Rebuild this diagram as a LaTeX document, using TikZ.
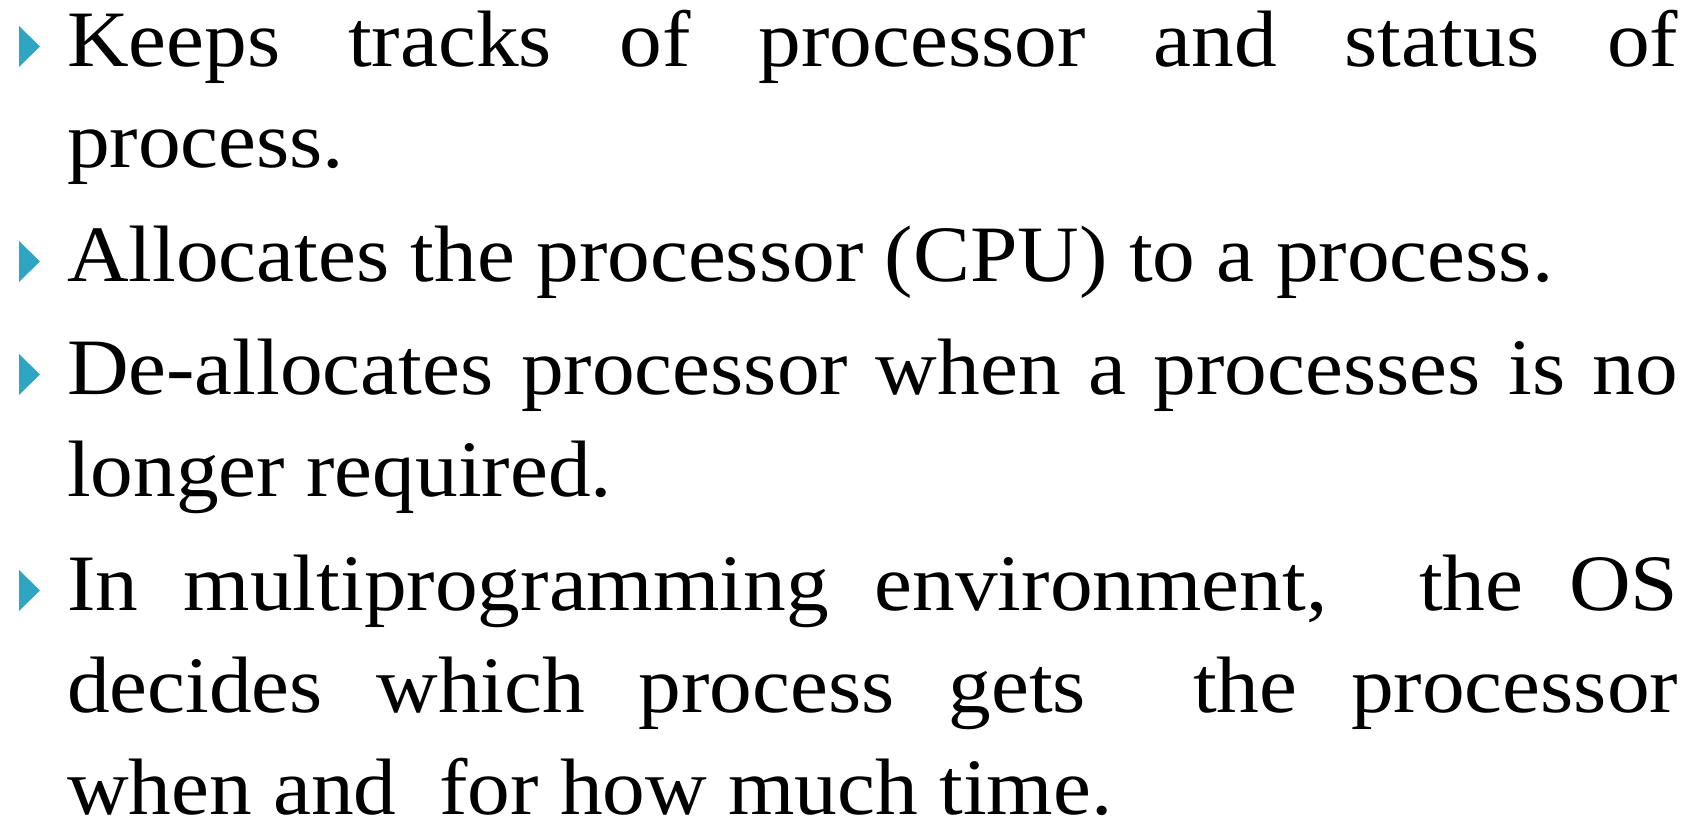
\documentclass[tikz,border=0pt]{standalone}
\usepackage{fontspec}
\setmainfont{Liberation Serif}
\definecolor{bulletblue}{HTML}{2FA5C4}
\newcommand{\wideline}[1]{\scalebox{1.067}[1]{#1}}
\newcommand{\justline}[1]{\scalebox{1.067}[1]{\makebox[1510bp][s]{#1}}}
\begin{document}
\begin{tikzpicture}[x=1bp,y=1bp,
  txtline/.style={anchor=base west, inner sep=0pt, outer sep=0pt, font=\fontsize{80bp}{96bp}\selectfont},
  bulletmark/.style={fill=bulletblue, draw=none}]
\useasboundingbox (0,0) rectangle (1706,821);
% bullets
\foreach \b in {754,539,426,210}{
  \fill[bulletmark] (19,\b) -- (19,\b+41) -- (40,\b+20.5) -- cycle;
}
% paragraph 1
\node[txtline] (l1) at (67,754) {\justline{Keeps tracks of processor and status of}};
\node[txtline] (l2) at (67,653) {\wideline{process.}};
% paragraph 2
\node[txtline] (l3) at (67,539) {\wideline{Allocates the processor (CPU) to a process.}};
% paragraph 3
\node[txtline] (l4) at (67,426) {\justline{De-allocates processor when a processes is no}};
\node[txtline] (l5) at (67,324) {\wideline{longer required.}};
% paragraph 4
\node[txtline] (l6) at (67,210) {\justline{In multiprogramming environment,\ \ the OS}};
\node[txtline] (l7) at (67,108) {\justline{decides which process gets\ \ the processor}};
\node[txtline] (l8) at (67,6) {\wideline{when and\ \ for how much time.}};
\end{tikzpicture}
\end{document}
